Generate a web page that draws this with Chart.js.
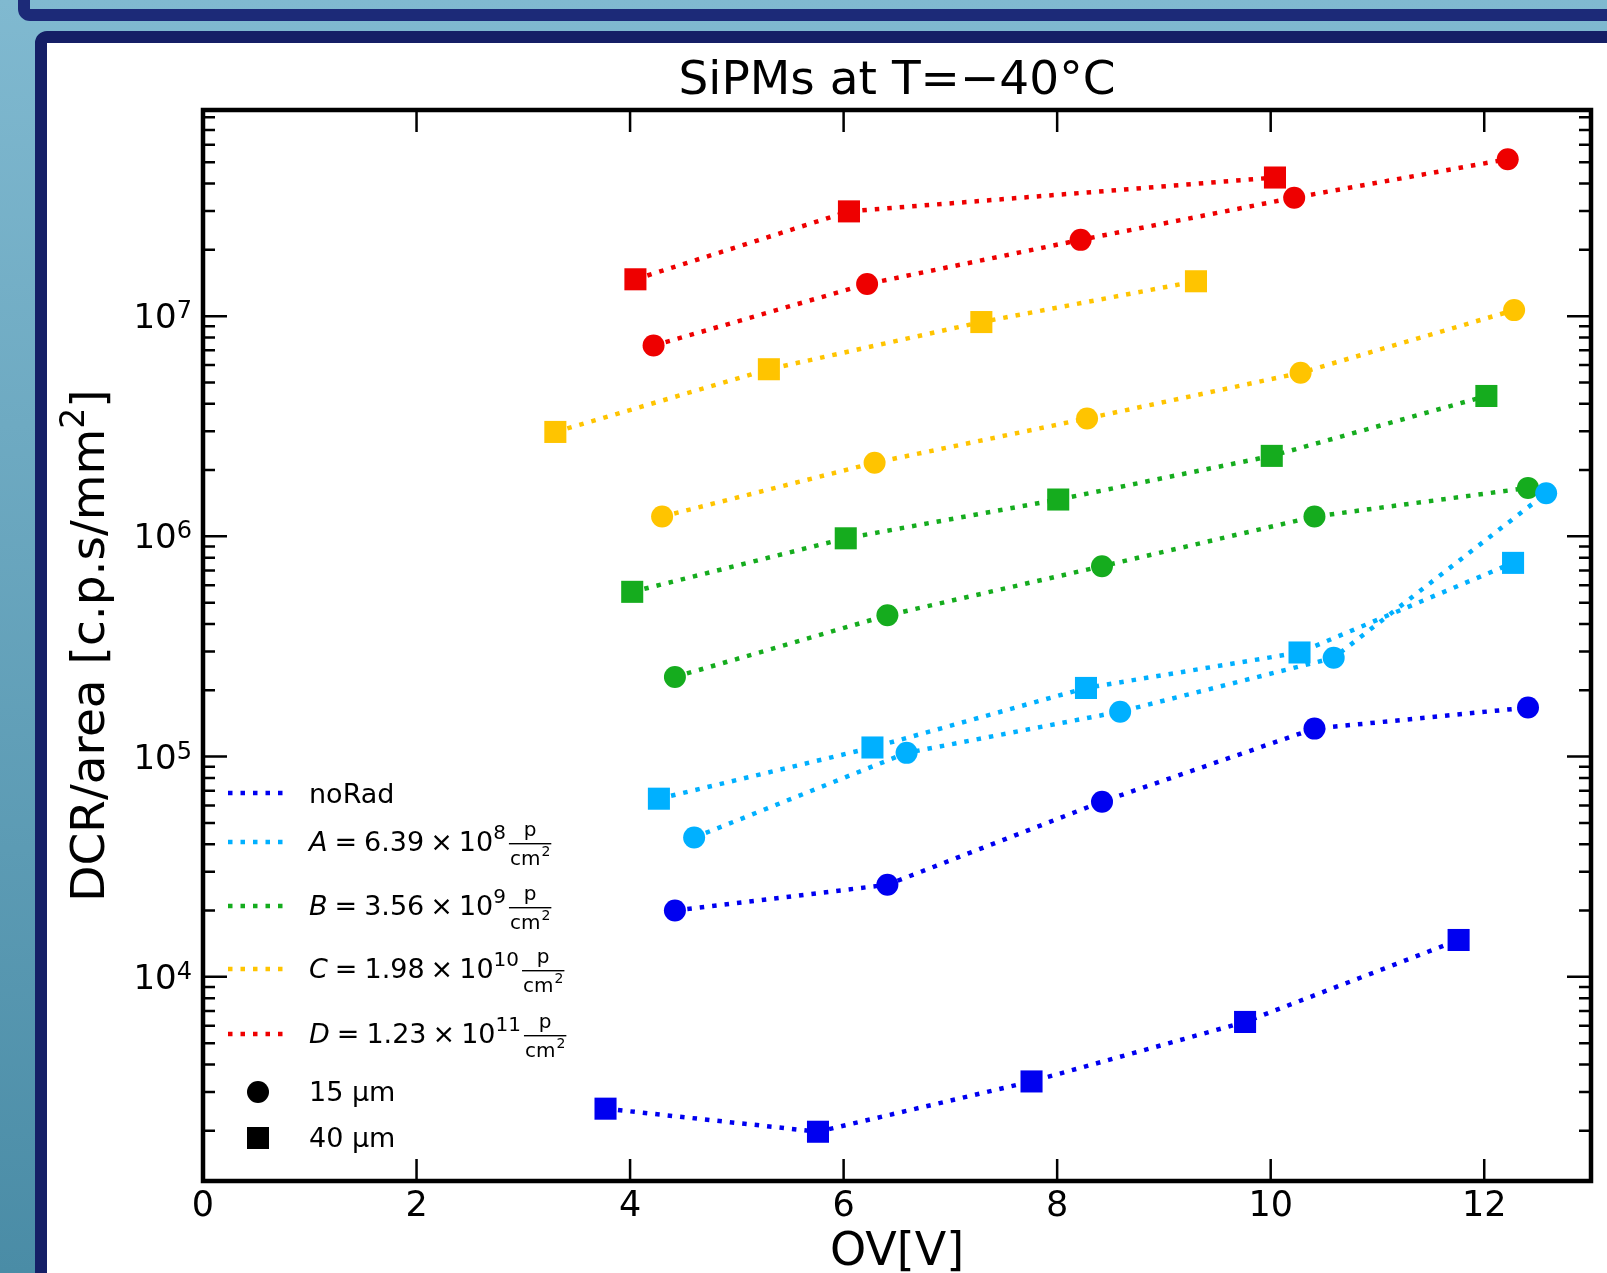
<!DOCTYPE html>
<html>
<head>
  <meta charset="UTF-8">
  <title>SiPMs at T=-40°C</title>
  <script src="https://cdn.jsdelivr.net/npm/chart.js"></script>
  <style>
    body {
      margin: 0;
      width: 1607px;
      height: 1273px;
      overflow: hidden;
      background: linear-gradient(to bottom, #80b9d0, #4a8ca6);
      font-family: "DejaVu Sans", sans-serif;
    }
    .topbar {
      position: absolute; left: 18px; top: -200px;
      width: 1700px; height: 221px; box-sizing: border-box;
      border: 12px solid #1c2a78; border-radius: 12px;
    }
    .panel {
      position: absolute; left: 35px; top: 31px;
      width: 1700px; height: 1400px; box-sizing: border-box;
      border: 12px solid #151f66; border-radius: 12px;
      background: #fff;
    }
    #chart { position: absolute; left: 0; top: 0; }
  </style>
</head>
<body>
  <div class="topbar"></div>
  <div class="panel"></div>
  <canvas id="chart" width="1607" height="1273"></canvas>

  <script>
  // overvoltage [V] and DCR/area [c.p.s/mm^2]
  const noRad15x = [4.42, 6.41, 8.42, 10.41, 12.41];
  const noRad15y = [2.0e4, 2.62e4, 6.24e4, 1.34e5, 1.67e5];
  const noRad40x = [3.77, 5.76, 7.76, 9.76, 11.76];
  const noRad40y = [2.52e3, 1.98e3, 3.35e3, 6.24e3, 1.47e4];

  const a15x = [4.60, 6.59, 8.59, 10.59, 12.58];
  const a15y = [4.29e4, 1.04e5, 1.60e5, 2.81e5, 1.57e6];
  const a40x = [4.27, 6.27, 8.27, 10.27, 12.27];
  const a40y = [6.44e4, 1.10e5, 2.05e5, 2.97e5, 7.58e5];

  const b15x = [4.42, 6.41, 8.42, 10.41, 12.41];
  const b15y = [2.30e5, 4.38e5, 7.32e5, 1.23e6, 1.66e6];
  const b40x = [4.02, 6.02, 8.01, 10.01, 12.02];
  const b40y = [5.6e5, 9.8e5, 1.47e6, 2.32e6, 4.34e6];

  const c15x = [4.30, 6.29, 8.28, 10.28, 12.28];
  const c15y = [1.23e6, 2.16e6, 3.43e6, 5.53e6, 1.065e7];
  const c40x = [3.30, 5.30, 7.29, 9.30];
  const c40y = [2.98e6, 5.74e6, 9.4e6, 1.44e7];

  const d15x = [4.22, 6.22, 8.22, 10.22, 12.22];
  const d15y = [7.35e6, 1.40e7, 2.22e7, 3.45e7, 5.16e7];
  const d40x = [4.05, 6.05, 10.04];
  const d40y = [1.47e7, 2.99e7, 4.26e7];

  const colors = ["#0000f0", "#00b0ff", "#15ac1e", "#ffc400", "#ee0000"];

  const xTicks = [0, 2, 4, 6, 8, 10, 12];
  const yMajor = [1e4, 1e5, 1e6, 1e7];
  const yExp = ["4", "5", "6", "7"];

  const legendLetters = ["A", "B", "C", "D"];
  const legendMant = ["6.39", "3.56", "1.98", "1.23"];
  const legendExp = ["8", "9", "10", "11"];

  const FONT = '"DejaVu Sans"';

  function pts(xs, ys) {
    return xs.map((x, i) => ({ x: x, y: ys[i] }));
  }

  function series(xs, ys, color, square) {
    return {
      data: pts(xs, ys),
      showLine: true,
      borderColor: color,
      borderWidth: 4.5,
      borderDash: [4.5, 8],
      borderCapStyle: "butt",
      backgroundColor: color,
      pointStyle: square ? "rect" : "circle",
      pointRadius: square ? 15.6 : 11,
      pointBorderWidth: 0,
      pointBackgroundColor: color
    };
  }

  function drawFracLabel(ctx, x, y, letter, mant, exp) {
    ctx.font = "italic 27px " + FONT;
    ctx.fillText(letter, x, y);
    x += ctx.measureText(letter).width + 7;
    ctx.font = "27px " + FONT;
    ctx.fillText("=", x, y);
    x += ctx.measureText("=").width + 7;
    ctx.fillText(mant, x, y);
    x += ctx.measureText(mant).width + 6;
    ctx.fillText("×", x, y);
    x += ctx.measureText("×").width + 6;
    ctx.fillText("10", x, y);
    x += ctx.measureText("10").width;
    ctx.font = "20px " + FONT;
    ctx.fillText(exp, x, y - 12);
    x += ctx.measureText(exp).width + 3;
    // p / cm^2
    const cmw = ctx.measureText("cm").width;
    ctx.font = "14px " + FONT;
    const sw = ctx.measureText("2").width;
    const fw = cmw + sw + 3;
    ctx.font = "20px " + FONT;
    ctx.textAlign = "center";
    ctx.fillText("p", x + fw / 2, y - 15);
    ctx.textAlign = "left";
    ctx.fillText("cm", x + 1, y + 14);
    ctx.font = "14px " + FONT;
    ctx.fillText("2", x + 1 + cmw + 1, y + 5);
    ctx.fillRect(x, y - 8, fw, 1.4);
  }

  const decor = {
    id: "decor",
    afterDatasetsDraw(chart) {
      const ctx = chart.ctx;
      const a = chart.chartArea;
      const xs = chart.scales.x;
      const ys = chart.scales.y;
      ctx.save();
      ctx.strokeStyle = "#000";
      ctx.fillStyle = "#000";

      // inward ticks on all four sides
      ctx.lineWidth = 2.5;
      ctx.beginPath();
      xTicks.forEach(v => {
        const px = xs.getPixelForValue(v);
        ctx.moveTo(px, a.bottom); ctx.lineTo(px, a.bottom - 22);
        ctx.moveTo(px, a.top); ctx.lineTo(px, a.top + 22);
      });
      for (let d = 3; d <= 7; d++) {
        for (let m = 1; m <= 9; m++) {
          const v = m * Math.pow(10, d);
          if (v < ys.min || v > ys.max) continue;
          const py = ys.getPixelForValue(v);
          const len = m === 1 ? 24 : 12;
          ctx.moveTo(a.left, py); ctx.lineTo(a.left + len, py);
          ctx.moveTo(a.right, py); ctx.lineTo(a.right - len, py);
        }
      }
      ctx.stroke();

      // spines
      ctx.lineWidth = 4.5;
      ctx.strokeRect(a.left, a.top, a.right - a.left, a.bottom - a.top);

      // x tick labels
      ctx.font = "35px " + FONT;
      ctx.textAlign = "center";
      ctx.textBaseline = "alphabetic";
      xTicks.forEach(v => {
        ctx.fillText(String(v), xs.getPixelForValue(v), a.bottom + 35);
      });

      // y tick labels 10^n
      ctx.textAlign = "right";
      yMajor.forEach((v, i) => {
        const py = ys.getPixelForValue(v);
        ctx.font = "24px " + FONT;
        const ew = ctx.measureText(yExp[i]).width;
        ctx.fillText(yExp[i], a.left - 11, py + 2);
        ctx.font = "34px " + FONT;
        ctx.fillText("10", a.left - 11 - ew, py + 12);
      });

      // titles
      const cx = (a.left + a.right) / 2;
      ctx.textAlign = "center";
      ctx.font = "47px " + FONT;
      ctx.fillText("SiPMs at T=\u221240°C", cx, a.top - 16);
      ctx.font = "46px " + FONT;
      ctx.fillText("OV[V]", cx, a.bottom + 84);

      // y axis title, rotated
      ctx.save();
      ctx.translate(a.left - 99, (a.top + a.bottom) / 2);
      ctx.rotate(-Math.PI / 2);
      ctx.textAlign = "left";
      ctx.font = "47px " + FONT;
      const s1 = "DCR/area [c.p.s/mm";
      const w1 = ctx.measureText(s1).width;
      const w3 = ctx.measureText("]").width;
      ctx.font = "33px " + FONT;
      const w2 = ctx.measureText("2").width;
      let tx = -(w1 + w2 + w3) / 2;
      ctx.font = "47px " + FONT;
      ctx.fillText(s1, tx, 0);
      ctx.font = "33px " + FONT;
      ctx.fillText("2", tx + w1, -20);
      ctx.font = "47px " + FONT;
      ctx.fillText("]", tx + w1 + w2, 0);
      ctx.restore();

      // legend
      const rowsY = [793, 842, 906, 969, 1034];
      ctx.lineWidth = 4.5;
      ctx.lineCap = "butt";
      ctx.setLineDash([4.5, 8]);
      rowsY.forEach((ry, i) => {
        ctx.strokeStyle = colors[i];
        ctx.beginPath();
        ctx.moveTo(228, ry); ctx.lineTo(284, ry);
        ctx.stroke();
      });
      ctx.setLineDash([]);
      ctx.textAlign = "left";
      ctx.fillStyle = "#000";
      ctx.font = "27px " + FONT;
      ctx.fillText("noRad", 309, rowsY[0] + 10);
      for (let i = 0; i < 4; i++) {
        drawFracLabel(ctx, 309, rowsY[i + 1] + 9, legendLetters[i], legendMant[i], legendExp[i]);
      }
      ctx.beginPath();
      ctx.arc(258, 1092, 11, 0, Math.PI * 2);
      ctx.fill();
      ctx.fillRect(247, 1127, 22, 22);
      ctx.font = "27px " + FONT;
      ctx.fillText("15 µm", 309, 1101);
      ctx.fillText("40 µm", 309, 1147);

      ctx.restore();
    }
  };

  new Chart(document.getElementById("chart").getContext("2d"), {
    type: "scatter",
    data: {
      datasets: [
        series(noRad15x, noRad15y, colors[0], false),
        series(noRad40x, noRad40y, colors[0], true),
        series(a15x, a15y, colors[1], false),
        series(a40x, a40y, colors[1], true),
        series(b15x, b15y, colors[2], false),
        series(b40x, b40y, colors[2], true),
        series(c15x, c15y, colors[3], false),
        series(c40x, c40y, colors[3], true),
        series(d15x, d15y, colors[4], false),
        series(d40x, d40y, colors[4], true)
      ]
    },
    options: {
      responsive: false,
      animation: false,
      events: [],
      layout: { padding: { left: 203, top: 110, right: 16, bottom: 92 } },
      plugins: {
        legend: { display: false },
        tooltip: { enabled: false }
      },
      scales: {
        x: { type: "linear", min: 0, max: 13, display: false },
        y: { type: "logarithmic", min: 1183, max: 8.63e7, display: false }
      }
    },
    plugins: [decor]
  });
  </script>
</body>
</html>
